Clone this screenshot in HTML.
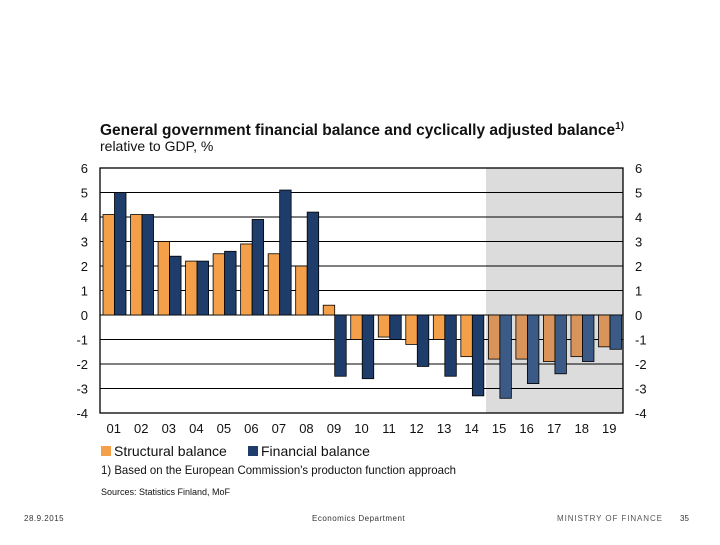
<!DOCTYPE html>
<html><head><meta charset="utf-8"><style>
body{margin:0;background:#fff;width:720px;height:540px;overflow:hidden;font-family:"Liberation Sans",Arial,sans-serif}
</style></head><body>
<svg id="c" width="720" height="540" xmlns="http://www.w3.org/2000/svg">
<text x="100" y="135" font-size="15.5" font-weight="bold" fill="#111">General government financial balance and cyclically adjusted balance<tspan font-size="10" dy="-6">1)</tspan></text>
<text x="100" y="151" font-size="14" fill="#111">relative to GDP, %</text>
<rect x="486" y="168" width="137" height="245" fill="#dcdcdc"/>
<g id="grid"></g><g id="bars"></g><g id="ticks"></g>
<rect x="100" y="168" width="523" height="245" fill="none" stroke="#000" stroke-width="1.3"/>
<g>
<rect x="101" y="446" width="10" height="10" fill="#f4a04a"/>
<text x="114" y="456" font-size="14" fill="#111">Structural balance</text>
<rect x="248" y="446" width="10" height="10" fill="#1f3d6b"/>
<text x="261" y="456" font-size="14" fill="#111">Financial balance</text>
</g>
<text x="101" y="474" font-size="12" fill="#111" textLength="355" lengthAdjust="spacingAndGlyphs">1) Based on the European Commission's producton function approach</text>
<text x="101" y="495" font-size="9" fill="#111">Sources: Statistics Finland, MoF</text>
<text x="24" y="521" font-size="8" fill="#333" letter-spacing="0.5">28.9.2015</text>
<text x="312" y="521" font-size="8" fill="#333" letter-spacing="0.5">Economics Department</text>
<text x="557" y="521" font-size="8" fill="#555" textLength="105" lengthAdjust="spacing">MINISTRY OF FINANCE</text>
<text x="680" y="521" font-size="8" fill="#333">35</text>
</svg>
<script>
const categories=["01","02","03","04","05","06","07","08","09","10","11","12","13","14","15","16","17","18","19"];
const structural=[4.1,4.1,3.0,2.2,2.5,2.9,2.5,2.0,0.4,-1.0,-0.9,-1.2,-1.0,-1.7,-1.8,-1.8,-1.9,-1.7,-1.3];
const financial=[5.0,4.1,2.4,2.2,2.6,3.9,5.1,4.2,-2.5,-2.6,-1.0,-2.1,-2.5,-3.3,-3.4,-2.8,-2.4,-1.9,-1.4];
const yTicks=[6,5,4,3,2,1,0,-1,-2,-3,-4];
const forecastStart=14;
const NS="http://www.w3.org/2000/svg";
const X0=100,X1=623,Y0=168,Y1=413,YMAX=6,YMIN=-4;
const gw=(X1-X0)/categories.length;
function y(v){return Y0+(YMAX-v)/(YMAX-YMIN)*(Y1-Y0);}
function gx(i){return X0+i*gw;}
function mk(tag,a,p){const e=document.createElementNS(NS,tag);for(const k in a)e.setAttribute(k,a[k]);p.appendChild(e);return e;}
const grid=document.getElementById('grid'),bars=document.getElementById('bars'),ticks=document.getElementById('ticks');
yTicks.forEach(t=>{
 const l=mk('line',{x1:X0,x2:X1,y1:y(t),y2:y(t),stroke:'#000','stroke-width':1},grid);
 
 
 const a=mk('text',{x:88,y:y(t)+5,'font-size':13,'text-anchor':'end',fill:'#111'},ticks);a.textContent=t;
 
 
 const b=mk('text',{x:635,y:y(t)+5,'font-size':13,fill:'#111'},ticks);b.textContent=t;
 
 
});
const bw=11.5;
categories.forEach((c,i)=>{
 const f=i>=forecastStart;
 [[structural[i],f?'#d8945a':'#f4a04a',3,'structural'],[financial[i],f?'#3b5a85':'#1f3d6b',3+bw,'financial']].forEach(([v,col,off,nm])=>{
  const r=mk('rect',{x:gx(i)+off,y:Math.min(y(v),y(0)),width:bw,height:Math.abs(y(v)-y(0)),fill:col,stroke:'#000','stroke-width':0.8},bars);
  
  
 });
 const t=mk('text',{x:gx(i)+gw/2,y:433,'font-size':13,'text-anchor':'middle',fill:'#111'},ticks);t.textContent=c;
 
 
});
</script>
</body></html>
